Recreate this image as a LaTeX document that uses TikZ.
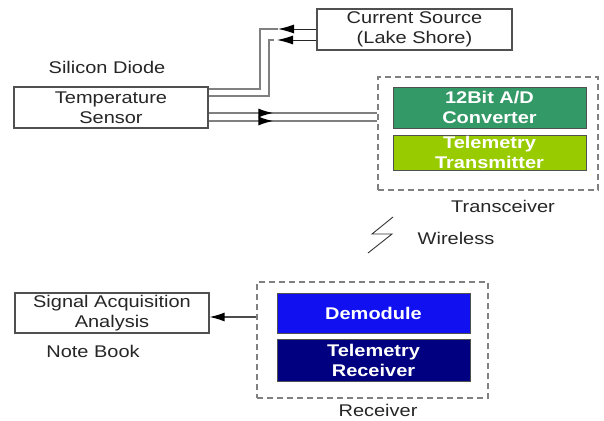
\documentclass[tikz,border=0pt]{standalone}
\usepackage{fontspec}
\setmainfont{Liberation Sans}[FakeStretch=1.18]
\usetikzlibrary{arrows.meta,decorations.markings}
\definecolor{adcgreen}{HTML}{339966}
\definecolor{txgreen}{HTML}{99CC00}
\definecolor{demblue}{HTML}{1010F0}
\definecolor{rxnavy}{HTML}{000080}
\definecolor{wiregray}{HTML}{808080}
\definecolor{boxline}{HTML}{505050}
\begin{document}
\begin{tikzpicture}[x=1bp,y=-1bp,
  font=\fontsize{17}{20}\selectfont,
  box/.style={draw=boxline, line width=1.1bp, fill=white, inner sep=0pt, align=center, text=black!85},
  cbox/.style={draw=boxline, line width=1bp, inner sep=0pt, align=center, text=white, font=\fontsize{17}{20}\selectfont\bfseries},
  dbox/.style={draw=wiregray, line width=1.6bp, dash pattern=on 6bp off 4bp, inner sep=0pt},
  lbl/.style={inner sep=0pt, text=black!85},
  wire/.style={draw=wiregray, line width=1.8bp},
  arr/.style={draw=black!85, line width=1bp, -{Latex[length=16bp,width=9bp,black]}},
  midarrow/.style={postaction={decorate}, decoration={markings, mark=at position #1 with {\arrow{Latex[length=15bp,width=9bp,black]}}}}
]
\useasboundingbox (0,0) rectangle (604,420);

% nodes
\node[box, minimum width=194bp, minimum height=41bp] (sensor) at (111,107.5) {Temperature\\Sensor};
\node[box, minimum width=195bp, minimum height=41bp] (cs) at (414.5,29.5) {Current Source\\(Lake Shore)};
\node[lbl, anchor=base] (sd) at (107,73) {Silicon Diode};

\node[dbox, minimum width=220bp, minimum height=113bp] (trx) at (488,133.5) {};
\node[cbox, fill=adcgreen, minimum width=193bp, minimum height=41bp] (adc) at (489.5,107.5) {12Bit A/D\\Converter};
\node[cbox, fill=txgreen, minimum width=193bp, minimum height=35bp] (tt) at (489.5,152.5) {Telemetry\\Transmitter};
\node[lbl, anchor=base] (trxl) at (503,212) {Transceiver};

\node[lbl, anchor=base] (wl) at (456,244) {Wireless};

\node[box, minimum width=194bp, minimum height=40bp] (sig) at (112,313) {Signal Acquisition\\Analysis};
\node[lbl, anchor=base] (nb) at (93,357) {Note Book};

\node[dbox, minimum width=231bp, minimum height=116bp] (rcv) at (372.5,340) {};
\node[cbox, fill=demblue, minimum width=193bp, minimum height=40bp] (dem) at (373.5,313) {Demodule};
\node[cbox, fill=rxnavy, minimum width=193bp, minimum height=42bp] (tr) at (373.5,360) {Telemetry\\Receiver};
\node[lbl, anchor=base] (rcvl) at (378,416) {Receiver};

% wires to current source
\coordinate (w1) at (260,29);
\coordinate (w1t) at (278,29);
\coordinate (w2) at (269,40);
\coordinate (w2s) at (274,40);
\coordinate (w2t) at (277,40);
\draw[wire] (sensor.east |- 0,89) -| (w1) -- (w1t);
\draw[arr] (cs.west |- w1t) -- (w1t);
\draw[wire] (sensor.east |- 0,96) -| (w2) -- (w2s);
\draw[arr] (cs.west |- w2t) -- (w2t);

% wires to transceiver
\draw[wire, midarrow=0.385] (sensor.east |- 0,113) -- (trx.west |- 0,113);
\draw[wire, midarrow=0.385] (sensor.east |- 0,121) -- (trx.west |- 0,121);

% receiver to notebook
\draw[draw=black!70, line width=1.2bp, -{Latex[length=15bp,width=9bp,black]}] (rcv.west |- 0,317) -- (sig.east |- 0,317);

% lightning
\draw[black!80, line width=0.9bp] (393,217) -- (372,234) -- (392,234) -- (368,253);
\end{tikzpicture}
\end{document}
